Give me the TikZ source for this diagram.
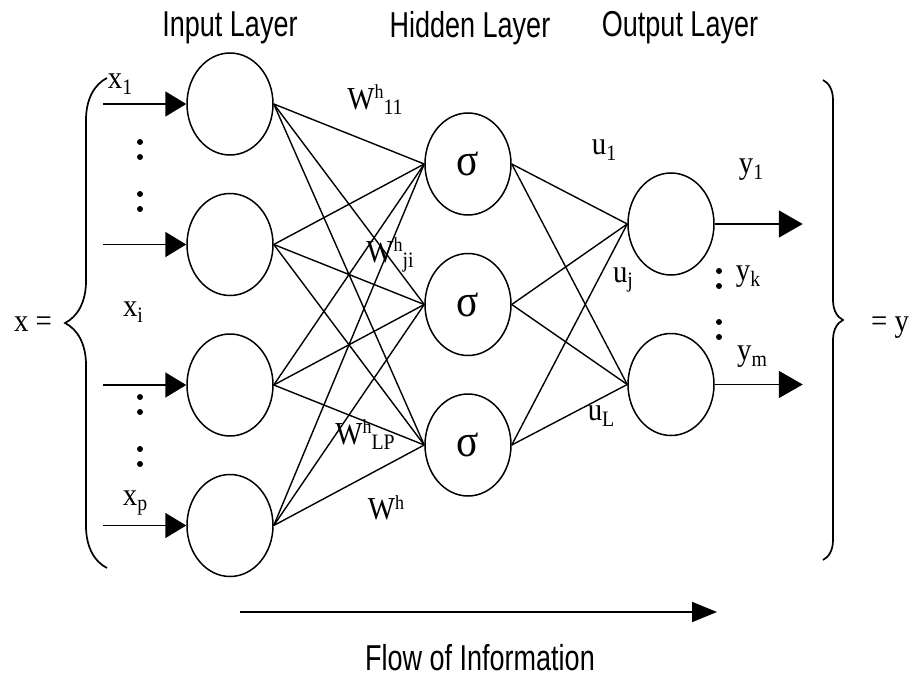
\documentclass[tikz,border=0pt]{standalone}
\usepackage{fontspec}
\setmainfont{Liberation Serif}[FakeStretch=0.9]
\newfontfamily\lyrfont{Liberation Sans}[FakeStretch=0.75]
\usetikzlibrary{arrows.meta,positioning,shapes.geometric,decorations.pathreplacing}

\newcommand{\wsup}[1]{\raisebox{.33em}{\fontsize{20}{20}\selectfont #1}}
\newcommand{\wsub}[1]{\raisebox{-.17em}{\fontsize{22}{22}\selectfont #1}}

\begin{document}
\begin{tikzpicture}[x=1pt,y=-1pt,
    neuron/.style={draw, ellipse, line width=1.5pt, minimum width=86pt,
      minimum height=102pt, inner sep=0pt},
    link/.style={line width=1.4pt},
    feed/.style={line width=1.8pt, -{Triangle[length=21pt,width=25pt]}},
    emit/.style={line width=1.8pt, -{Triangle[length=24pt,width=27pt]}},
    brc/.style={line width=1.7pt, decorate},
    lyr/.style={font=\lyrfont\fontsize{36}{40}\selectfont},
    sym/.style={font=\fontsize{32}{36}\selectfont, inner sep=0pt},
    node distance=37pt]

  \useasboundingbox (0,0) rectangle (918,679);

  %% -- neurons
  \node (i1) [neuron] at (230,104) {};
  \node (i2) [neuron, below=of i1] {};
  \node (i3) [neuron, below=of i2] {};
  \node (i4) [neuron, below=of i3] {};

  \node (h1) [neuron, font=\fontsize{46}{46}\selectfont] at (468,164) {σ};
  \node (h2) [neuron, font=\fontsize{46}{46}\selectfont, below=of h1] {σ};
  \node (h3) [neuron, font=\fontsize{46}{46}\selectfont, below=of h2] {σ};

  \node (o1) [neuron] at (671,224) {};
  \node (o2) [neuron, below=57pt of o1] {};

  %% -- layer titles
  \node (tin)  [lyr] at (230,28) {Input Layer};
  \node (thid) [lyr] at (470,28) {Hidden Layer};
  \node (tout) [lyr] at (680,28) {Output Layer};

  %% -- weights
  \foreach \i in {1,...,4}
    \foreach \j in {1,2,3}
      \draw[link] (i\i.east) -- (h\j.west);
  \foreach \j in {1,2,3}
    \foreach \k in {1,2}
      \draw[link] (h\j.east) -- (o\k.west);

  %% -- inputs and outputs
  \foreach \i in {1,...,4} {
    \coordinate (a\i) at ([xshift=-83pt]i\i.west);
    \draw[feed] (a\i) -- (i\i.west);
  }
  \foreach \k in {1,2} {
    \coordinate (b\k) at ([xshift=88pt]o\k.east);
    \draw[emit] (o\k.east) -- (b\k);
  }

  %% dots between the inputs / outputs
  \foreach \y in {142,157,194,209,397,412,449,464}
    \fill (140,\y) circle (3pt);
  \foreach \y in {271,286,322,337}
    \fill (719,\y) circle (3pt);

  %% -- braces
  \coordinate (lb0) at (107,568);
  \coordinate (lb1) at (107,78);
  \draw[brc, decoration={brace,amplitude=42pt}] (lb0) -- (lb1);
  \coordinate (rb0) at (823,80);
  \coordinate (rb1) at (823,560);
  \draw[brc, decoration={brace,amplitude=20pt}] (rb0) -- (rb1);

  %% -- labels
  \node (xeq) [sym] at (33,324) {x =};
  \node (yeq) [sym] at (890,328) {= y};
  \node (x1) [sym] at (120,84)  {x\wsub{1}};
  \node (xi) [sym] at (133,312) {x\wsub{i}};
  \node (xp) [sym] at (135,503) {x\wsub{p}};

  \node (w11) [sym] at (375,100) {W\wsup{h}\wsub{11}};
  \node (wji) [sym] at (390,255) {W\wsup{h}\wsub{ji}};
  \node (wlp) [sym] at (365,435) {W\wsup{h}\wsub{LP}};
  \node (wh)  [sym] at (386,508) {W\wsup{h}};

  \node (u1) [sym] at (604,150) {u\wsub{1}};
  \node (uj) [sym] at (623,280) {u\wsub{j}};
  \node (uL) [sym] at (601,416) {u\wsub{L}};

  \node (y1) [sym] at (751,170) {y\wsub{1}};
  \node (yk) [sym] at (748,277) {y\wsub{k}};
  \node (ym) [sym] at (752,357) {y\wsub{m}};

  %% -- direction of flow
  \coordinate (f0) at (240,612);
  \coordinate (f1) at (717,612);
  \draw[line width=1.8pt, -{Triangle[length=25pt,width=20pt]}] (f0) -- (f1);
  \node (flow) [lyr] at (480,658) {Flow of Information};

\end{tikzpicture}
\end{document}
